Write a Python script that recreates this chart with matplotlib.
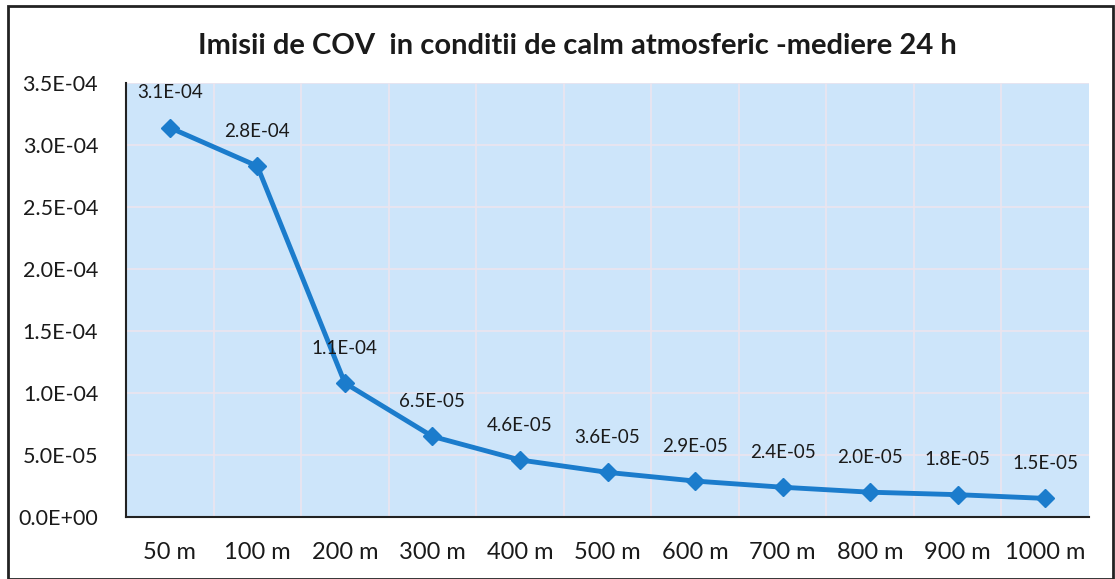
import matplotlib
matplotlib.use("Agg")
import matplotlib.pyplot as plt
from matplotlib.patches import Rectangle

categories = ["50 m", "100 m", "200 m", "300 m", "400 m", "500 m",
              "600 m", "700 m", "800 m", "900 m", "1000 m"]
values = [3.14e-4, 2.83e-4, 1.08e-4, 6.5e-5, 4.6e-5, 3.6e-5,
          2.9e-5, 2.4e-5, 2.0e-5, 1.8e-5, 1.5e-5]
labels = ["3.1E-04", "2.8E-04", "1.1E-04", "6.5E-05", "4.6E-05", "3.6E-05",
          "2.9E-05", "2.4E-05", "2.0E-05", "1.8E-05", "1.5E-05"]
yticks = [0, 5e-5, 1e-4, 1.5e-4, 2e-4, 2.5e-4, 3e-4, 3.5e-4]
ytick_labels = ["0.0E+00", "5.0E-05", "1.0E-04", "1.5E-04", "2.0E-04",
                "2.5E-04", "3.0E-04", "3.5E-04"]
title = "Imisii de COV  in conditii de calm atmosferic -mediere 24 h"

plt.rcParams['font.family'] = ['Lato', 'DejaVu Sans']

W, H = 1115, 579
fig = plt.figure(figsize=(W / 100, H / 100), dpi=100)
fig.patch.set_facecolor('white')

# outer chart border
fig.add_artist(Rectangle((8 / W, 0.0), (W - 10) / W, (H - 6) / H,
                         transform=fig.transFigure, fill=False,
                         edgecolor='#222222', linewidth=2.0))

left, right, top, bottom = 126, 1089, 83, 517
ax = fig.add_axes([left / W, 1 - bottom / H, (right - left) / W, (bottom - top) / H])
ax.set_facecolor('#cde5fa')

x = list(range(len(categories)))
ax.plot(x, values, color='#1b7ccc', linewidth=3.5, marker='D', markersize=9,
        markerfacecolor='#1b7ccc', markeredgecolor='#1b7ccc', zorder=3)

for xi, v, lab in zip(x, values, labels):
    ax.annotate(lab, (xi, v), xytext=(0, 19), textcoords='offset points',
                ha='center', va='bottom', fontsize=13.5, color='#1a1a1a')

ax.set_xlim(-0.5, len(categories) - 0.5)
ax.set_ylim(0, 3.5e-4)
ax.set_yticks(yticks)
ax.set_yticklabels(ytick_labels, fontsize=15.5, color='#1a1a1a')
ax.set_xticks(x)
ax.set_xticklabels(categories, fontsize=17, color='#1a1a1a')
ax.set_xticks([i + 0.5 for i in x[:-1]], minor=True)

ax.grid(True, which='major', axis='y', color='#ece4ee', linewidth=1.2)
ax.grid(True, which='minor', axis='x', color='#ece4ee', linewidth=1.2)
ax.set_axisbelow(True)

ax.tick_params(axis='both', which='both', length=0)
ax.tick_params(axis='x', pad=18)
ax.tick_params(axis='y', pad=20)

for s in ['top', 'right']:
    ax.spines[s].set_visible(False)
ax.spines['left'].set_color('#222222')
ax.spines['left'].set_linewidth(1.5)
ax.spines['bottom'].set_color('#222222')
ax.spines['bottom'].set_linewidth(1.5)

fig.text(0.5 + 20 / W, 1 - 46 / H, title, ha='center', va='center',
         fontsize=21, fontweight='bold', color='#1a1a1a')

fig.savefig("out.png", dpi=100, facecolor='white')
